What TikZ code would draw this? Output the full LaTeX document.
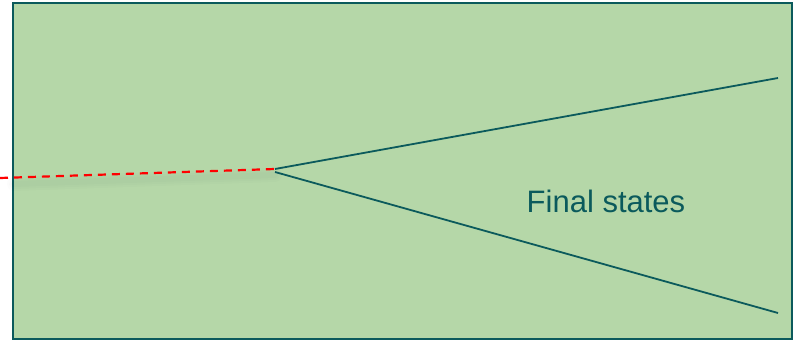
\documentclass[tikz,border=0pt]{standalone}
\usepackage{fontspec}
\setmainfont{Liberation Sans}
\usepackage{xcolor}
\usetikzlibrary{positioning,calc}
\definecolor{fsgreen}{HTML}{B5D7A8}
\definecolor{fsteal}{HTML}{0B5A5C}
\definecolor{fsred}{HTML}{FF0000}

\begin{document}
\begin{tikzpicture}[
  x=1pt, y=-1pt,
  panel/.style={draw=fsteal, line width=2.4pt, fill=fsgreen},
  prong/.style={draw=fsteal, line width=1.8pt},
  incoming/.style={draw=fsred, line width=2.2pt, dash pattern=on 8pt off 6pt},
  glow/.style={draw=black, line cap=round},
  ]
  \useasboundingbox (0,0) rectangle (793,342);
  \draw[panel] (13,3) rectangle (792,339);

  \coordinate (src) at (0,178);
  \coordinate (vtx) at (275,169);
  \coordinate (vtxlow) at (275,172);
  \coordinate (up) at (778,78);
  \coordinate (down) at (778,313);

  % soft shadow under the incoming line
  \foreach \w in {14, 10, 6}
    \draw[glow, line width=\w pt, opacity=0.011] ($(src)+(14,6)$) -- ($(vtx)+(0,6)$);
  \draw[incoming] (src) -- (vtx);

  \draw[prong] (vtx) -- (up);
  \draw[prong] (vtxlow) -- (down);

  \node[text=fsteal, font=\fontsize{31}{33}\selectfont] (lbl) at (606,201) {Final states};
\end{tikzpicture}
\end{document}
